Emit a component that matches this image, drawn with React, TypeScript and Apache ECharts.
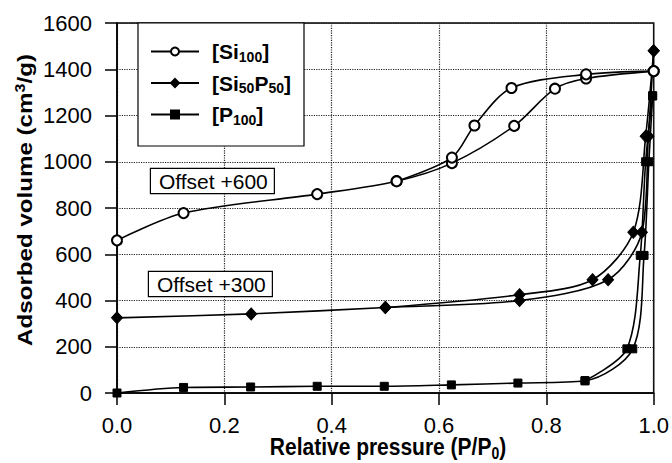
import React, { useEffect, useRef } from 'react';
import * as echarts from 'echarts';

const FONT = '"Liberation Sans", Arial, Helvetica, sans-serif';

const xTicks = [0, 0.2, 0.4, 0.6, 0.8, 1.0];
const yTicks = [0, 200, 400, 600, 800, 1000, 1200, 1400, 1600];
const seriesNames = ['[Si100]', '[Si50P50]', '[P100]'];

// [Si100] (plotted with offset +600): adsorption and desorption branches
const si100Ads: number[][] = [[0, 660], [0.124, 778], [0.373, 860], [0.521, 916], [0.624, 994], [0.74, 1155], [0.816, 1316], [0.874, 1360], [1.0, 1392]];
const si100Des: number[][] = [[0.521, 916], [0.624, 1018], [0.666, 1157], [0.735, 1319], [0.874, 1378], [1.0, 1392]];
// [Si50P50] (plotted with offset +300)
const si50p50Ads: number[][] = [[0, 325], [0.25, 342], [0.5, 370], [0.75, 400], [0.915, 490], [0.978, 695], [0.99, 1110], [1.0, 1480]];
const si50p50Des: number[][] = [[0.5, 370], [0.75, 425], [0.886, 490], [0.962, 695], [0.985, 1110], [1.0, 1480]];
// [P100]
const p100Ads: number[][] = [[0, 0], [0.124, 24], [0.249, 26], [0.373, 29], [0.498, 29], [0.623, 35], [0.747, 43], [0.872, 53], [0.961, 191], [0.982, 595], [0.991, 1000], [0.998, 1285]];
const p100Des: number[][] = [[0.872, 53], [0.95, 191], [0.975, 595], [0.985, 1000], [0.998, 1285]];

const legendRich: Record<string, string> = {
  '[Si100]': '{b|[Si}{s|100}{b|]}',
  '[Si50P50]': '{b|[Si}{s|50}{b|P}{s|50}{b|]}',
  '[P100]': '{b|[P}{s|100}{b|]}',
};

const richBold = {
  b: { fontSize: 21, fontWeight: 'bold', fontFamily: FONT, color: '#000', lineHeight: 24 },
  s: { fontSize: 14, fontWeight: 'bold', fontFamily: FONT, color: '#000', lineHeight: 11, verticalAlign: 'bottom' },
  p: { fontSize: 14, fontWeight: 'bold', fontFamily: FONT, color: '#000', lineHeight: 11, verticalAlign: 'top' },
};

function mk(name: string, data: number[][], symbol: string, size: number | number[]) {
  return {
    type: 'line',
    name,
    data,
    symbol,
    symbolSize: size,
    smooth: 0.3,
    lineStyle: { color: '#000', width: 1.6 },
    itemStyle: { color: '#000', borderColor: '#000', borderWidth: 1 },
    emphasis: { disabled: true },
    z: 2,
  };
}

export default function App() {
  const ref = useRef<HTMLDivElement>(null);
  useEffect(() => {
    if (!ref.current) return;
    const chart = echarts.init(ref.current, undefined, { renderer: 'svg' });
    const axisCommon = {
      axisLine: { show: true, onZero: false, lineStyle: { color: '#000', width: 1.5 } },
      axisTick: { show: true, length: 12, lineStyle: { color: '#000', width: 1.5 } },
      splitLine: { show: true, lineStyle: { type: 'dotted', color: '#222', width: 1.2 } },
    };
    chart.setOption({
      animation: false,
      backgroundColor: '#fff',
      grid: { left: 117, right: 13, top: 23, bottom: 70, show: true, borderColor: '#000', borderWidth: 1.5, backgroundColor: 'transparent' },
      xAxis: {
        type: 'value',
        min: xTicks[0],
        max: xTicks[xTicks.length - 1],
        interval: xTicks[1] - xTicks[0],
        ...axisCommon,
        axisLabel: { formatter: (v: number) => v.toFixed(1), fontSize: 22, color: '#000', fontFamily: FONT, margin: 21 },
      },
      yAxis: {
        type: 'value',
        min: yTicks[0],
        max: yTicks[yTicks.length - 1],
        interval: yTicks[1] - yTicks[0],
        ...axisCommon,
        axisLabel: { formatter: (v: number) => String(v), fontSize: 22, color: '#000', fontFamily: FONT, margin: 25 },
      },
      legend: {
        data: seriesNames,
        orient: 'vertical',
        left: 150,
        top: 41,
        padding: 0,
        itemGap: 9,
        itemWidth: 48,
        itemHeight: 10,
        selectedMode: false,
        formatter: (n: string) => legendRich[n],
        textStyle: { padding: [0, 0, 0, 8], rich: richBold },
      },
      graphic: {
        elements: [
          { type: 'rect', z: 3, shape: { x: 138, y: 23, width: 166, height: 123 }, style: { fill: '#fff', stroke: '#000', lineWidth: 1.2 } },
          {
            type: 'text', x: 151, y: 169, z: 3,
            style: { text: 'Offset +600', fontSize: 21, fontFamily: FONT, fill: '#000', backgroundColor: '#fff', borderColor: '#000', borderWidth: 1.2, padding: [2, 6, 1, 8], lineHeight: 21, align: 'left', verticalAlign: 'top' },
          },
          {
            type: 'text', x: 149, y: 272, z: 3,
            style: { text: 'Offset +300', fontSize: 21, fontFamily: FONT, fill: '#000', backgroundColor: '#fff', borderColor: '#000', borderWidth: 1.2, padding: [2, 6, 1, 8], lineHeight: 21, align: 'left', verticalAlign: 'top' },
          },
          {
            type: 'text', x: 388, y: 447, scaleY: 1.15, z: 3,
            style: { text: '{b|Relative pressure (P/P}{s|0}{b|)}', rich: richBold, align: 'center', verticalAlign: 'middle' },
          },
          {
            type: 'text', x: 25, y: 200, rotation: Math.PI / 2, scaleX: 1.15, z: 3,
            style: { text: '{b|Adsorbed volume (cm}{p|3}{b|/g)}', rich: richBold, align: 'center', verticalAlign: 'middle' },
          },
        ],
      },
      series: [
        mk(seriesNames[0], si100Ads, 'emptyCircle', 10),
        mk(seriesNames[1], si50p50Ads, 'diamond', [11, 12]),
        mk(seriesNames[2], p100Ads, 'rect', 8),
        mk(seriesNames[0], si100Des, 'emptyCircle', 10),
        mk(seriesNames[1], si50p50Des, 'diamond', [11, 12]),
        mk(seriesNames[2], p100Des, 'rect', 8),
      ],
    });
    return () => chart.dispose();
  }, []);
  return <div ref={ref} style={{ position: 'fixed', left: 0, top: 0, width: 672, height: 463, background: '#fff' }} />;
}
